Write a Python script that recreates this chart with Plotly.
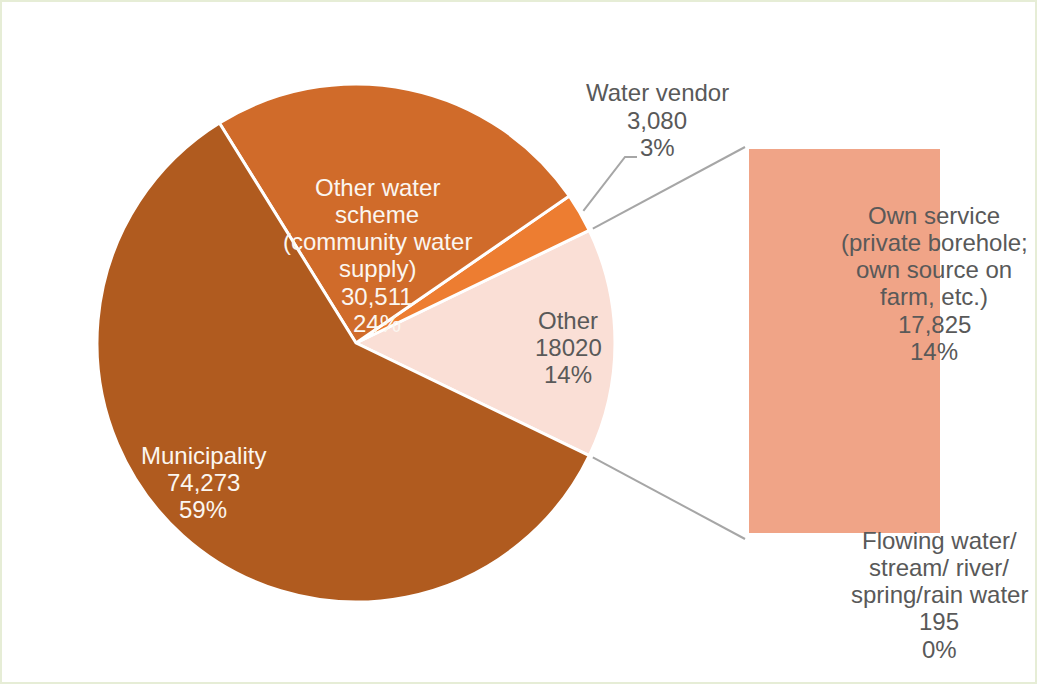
import math
import plotly.graph_objects as go

W, H = 1037, 684

# ---- data ----
bar_labels = ["Flowing water/ stream/ river/ spring/rain water",
              "Own service (private borehole; own source on farm, etc.)"]
bar_values = [195, 17825]
bar_pcts = ["0%", "14%"]

pie_labels = ["Other", "Water vendor",
              "Other water scheme (community water supply)", "Municipality"]
pie_values = [sum(bar_values), 3080, 30511, 74273]
pie_pcts = ["14%", "3%", "24%", "59%"]
pie_value_text = ["18020", "3,080", "30,511", "74,273"]

pie_colors = ["#FADFD6", "#ED7D31", "#D06B2A", "#B05B1F"]
bar_color = "#F0A487"

# wrapped label lines as shown in the chart
pie_label_lines = [["Other"], ["Water vendor"],
                   ["Other water", "scheme", "(community water", "supply)"],
                   ["Municipality"]]
bar_label_lines = [["Flowing water/", "stream/ river/", "spring/rain water"],
                   ["Own service", "(private borehole;", "own source on", "farm, etc.)"]]

# ---- geometry ----
cx, cy, r = 356, 343, 259
total = sum(pie_values)
half_other = pie_values[0] / total * 180.0

def px(x):
    return x / W

def py(y):
    return 1 - y / H

fig = go.Figure()

fig.add_trace(go.Pie(
    labels=pie_labels, values=pie_values, sort=False,
    direction="counterclockwise", rotation=90 - half_other,
    marker=dict(colors=pie_colors, line=dict(color="white", width=3)),
    textinfo="none", hoverinfo="label+value+percent", showlegend=False,
    domain=dict(x=[px(cx - r), px(cx + r)], y=[py(cy + r), py(cy - r)]),
))

for lab, val in zip(bar_labels, bar_values):
    fig.add_trace(go.Bar(x=[0], y=[val], width=1, name=lab,
                         marker=dict(color=bar_color, line=dict(width=0)),
                         showlegend=False, hoverinfo="name+y"))

bar_x0, bar_x1, bar_top, bar_bot = 749, 940, 149, 533
fig.update_layout(
    width=W, height=H, margin=dict(l=0, r=0, t=0, b=0),
    paper_bgcolor="white", plot_bgcolor="white", barmode="stack",
    xaxis=dict(domain=[px(bar_x0), px(bar_x1)], range=[-0.5, 0.5], visible=False, fixedrange=True),
    yaxis=dict(domain=[py(bar_bot), py(bar_top)], range=[0, sum(bar_values)], visible=False, fixedrange=True),
)

shapes = []
line_col = "#A6A6A6"
# connectors from "Other" slice to bar
for sgn, end in ((1, (745, 147)), (-1, (745, 539))):
    a = math.radians(sgn * half_other)
    sx, sy = cx + (r + 4) * math.cos(a), cy - (r + 4) * math.sin(a)
    shapes.append(dict(type="line", xref="paper", yref="paper",
                       x0=px(sx), y0=py(sy), x1=px(end[0]), y1=py(end[1]),
                       line=dict(color=line_col, width=2)))
# leader for water vendor
wv_mid = math.radians(half_other + pie_values[1] / total * 180.0)
lx, ly = cx + (r + 4) * math.cos(wv_mid), cy - (r + 4) * math.sin(wv_mid)
shapes.append(dict(type="path", xref="paper", yref="paper",
                   path=f"M {px(lx)} {py(ly)} L {px(625)} {py(157)} L {px(637)} {py(157)}",
                   line=dict(color=line_col, width=2)))
# outer frame
shapes.append(dict(type="rect", xref="paper", yref="paper",
                   x0=px(1), y0=py(H - 1), x1=px(W - 1), y1=py(1),
                   line=dict(color="#E6EDD6", width=2)))
fig.update_layout(shapes=shapes)

font_family = "Liberation Sans, Arial, sans-serif"
fs = 24
step = 27.3
gray = "#595959"
light = "#FBF6F0"

annotations = []
def add_label(lines, x, y0, color):
    for i, t in enumerate(lines):
        annotations.append(dict(x=px(x), y=py(y0 + i * step), xref="paper", yref="paper",
                                text=t, showarrow=False, xanchor="center", yanchor="middle",
                                font=dict(family=font_family, size=fs, color=color)))

pie_label_pos = [(568, 320, gray), (657, 93, gray), (377, 187, light), (203, 455, light)]
for lines, v, p, (x, y, c) in zip(pie_label_lines, pie_value_text, pie_pcts, pie_label_pos):
    add_label(lines + [v, p], x, y, c)

bar_label_pos = [(939, 540, gray), (934, 215, gray)]
for lines, v, p, (x, y, c) in zip(bar_label_lines, bar_values, bar_pcts, bar_label_pos):
    add_label(lines + [f"{v:,}", p], x, y, c)

fig.update_layout(annotations=annotations)
fig.write_html("out.html", config={"displayModeBar": False},
               post_script="document.body.style.margin='0';document.body.style.overflow='hidden';")
